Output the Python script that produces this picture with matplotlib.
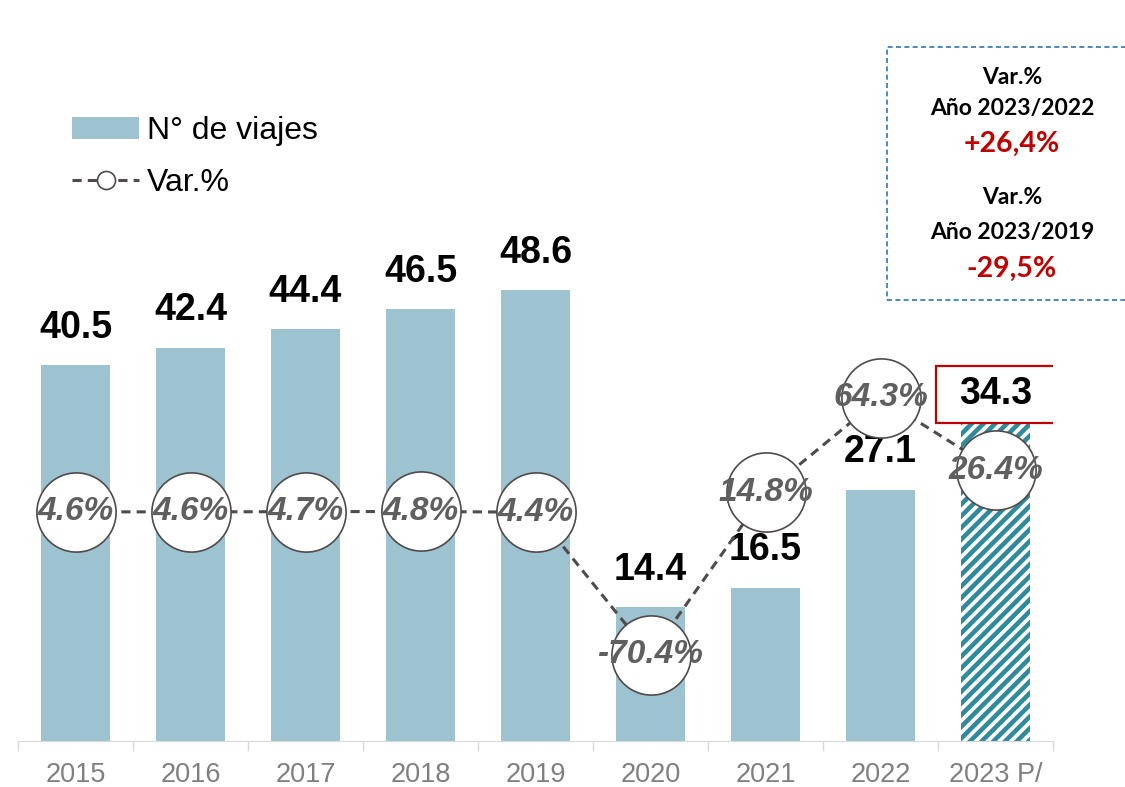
import numpy as np
import matplotlib.pyplot as plt
from matplotlib.lines import Line2D
from matplotlib.patches import Patch, Rectangle
from matplotlib.transforms import IdentityTransform

# datos
years = ["2015", "2016", "2017", "2018", "2019", "2020", "2021", "2022", "2023 P/"]
viajes = [40.5, 42.4, 44.4, 46.5, 48.6, 14.4, 16.5, 27.1, 34.3]
var_pct = [4.6, 4.6, 4.7, 4.8, 4.4, -70.4, 14.8, 64.3, 26.4]

box_lines = ["Var.%", "Año 2023/2022", "+26,4%", "Var.%", "Año 2023/2019", "-29,5%"]

plt.rcParams['font.family'] = ['Liberation Sans', 'DejaVu Sans']

bar_color = "#9cc3cf"
hatch_color = "#2f8a9c"
line_color = "#504a4a"
label_gray = "#5f5f5f"
red = "#c00000"

fig = plt.figure(figsize=(11.25, 7.87), dpi=100)
ax = fig.add_axes([18 / 1125, 46 / 787, 1035 / 1125, 696 / 787])
x = np.arange(len(years))

ax.set_xlim(-0.5, len(years) - 0.5)
ax.set_ylim(0, 75)

# barras
ax.bar(x[:-1], viajes[:-1], width=0.6, color=bar_color, zorder=2)
hb = ax.bar(x[-1], viajes[-1], width=0.6, color="white", zorder=2)[0]

# rayado manual de la barra proyectada
(px0, py0), (px1, py1) = ax.transData.transform(
    [(hb.get_x(), 0), (hb.get_x() + hb.get_width(), hb.get_height())])
h = py1 - py0
for c in np.arange(px0 - h, px1 + 12, 11.7):
    ln = Line2D([c, c + h], [py0, py1], transform=IdentityTransform(),
                color=hatch_color, lw=3.3, zorder=2.5)
    ax.add_artist(ln)
    ln.set_clip_path(hb)

# etiquetas de las barras
for xi, v in zip(x[:-1], viajes[:-1]):
    ax.annotate(f"{v:.1f}", (xi, v), xytext=(0, 14), textcoords="offset points",
                ha="center", va="bottom", fontsize=27, fontweight="bold", zorder=5)

bw = 0.515
box_h = 6.1
ax.add_patch(Rectangle((x[-1] - bw, viajes[-1]), 2 * bw, box_h, facecolor="white",
                       edgecolor=red, lw=1.6, zorder=4))
ax.text(x[-1], viajes[-1] + box_h / 2, f"{viajes[-1]:.1f}", ha="center", va="center",
        fontsize=27, fontweight="bold", zorder=5)

# ejes
for s in ["left", "right", "top"]:
    ax.spines[s].set_visible(False)
ax.spines["bottom"].set_color("#d9d9d9")
ax.set_yticks([])
ax.set_xticks(x, years)
ax.set_xticks(np.arange(-0.5, len(years)), minor=True)
ax.tick_params(axis="x", which="major", length=0, pad=15, labelsize=19.5, labelcolor="#7f7f7f")
ax.tick_params(axis="x", which="minor", length=7, color="#d9d9d9", width=1)

# variacion porcentual
ax2 = ax.twinx()
ax2.set_ylim(-115.5, 249.3)
ax2.plot(x, var_pct, ls=(0, (3, 2)), color=line_color, lw=2.2, marker="o", ms=57,
         mfc="white", mec=line_color, mew=1.2, zorder=3)
for xi, v in zip(x, var_pct):
    ax2.text(xi, v, f"{v:.1f}%", ha="center", va="center", fontsize=24,
             fontstyle="italic", fontweight="bold", color=label_gray, zorder=4)
ax2.axis("off")

# leyenda
handles = [Patch(facecolor=bar_color),
           Line2D([], [], ls=(0, (3, 2)), color=line_color, lw=2.2, marker="o", ms=13,
                  mfc="white", mec=line_color, mew=1.2)]
fig.legend(handles, ["N° de viajes", "Var.%"], loc="upper left",
           bbox_to_anchor=(72 / 1125, 1 - 116 / 787), frameon=False, fontsize=23,
           handlelength=2.1, handletextpad=0.25, labelspacing=0.68, borderpad=0,
           borderaxespad=0)

# recuadro de variaciones
fig.patches.append(Rectangle((887 / 1125, 1 - 300 / 787), 0.25, 253 / 787,
                             transform=fig.transFigure, fill=False, ls=(0, (3, 2)),
                             edgecolor="#2e75b6", lw=1.2))
ys = [78, 109, 144, 198, 232, 269]
for txt, yy in zip(box_lines, ys):
    big = txt.endswith("%") and txt[0] in "+-"
    fig.text(1012 / 1125, 1 - yy / 787, txt, ha="center", va="center",
             family=["Lato", "DejaVu Sans"], fontweight="bold",
             fontsize=20.5 if big else 16.5, color=red if big else "black")

fig.savefig("out.png", dpi=100)
